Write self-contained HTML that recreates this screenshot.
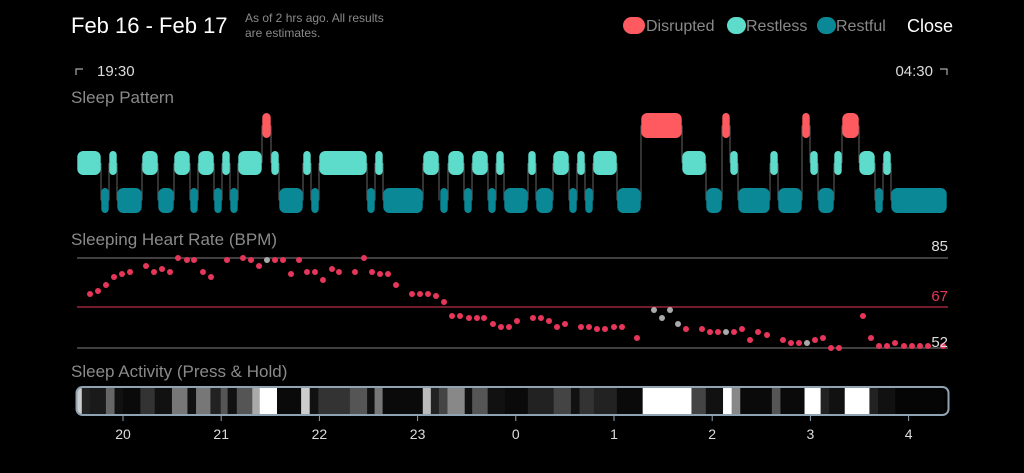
<!DOCTYPE html>
<html><head><meta charset="utf-8"><style>
html,body{margin:0;padding:0;background:#000;width:1024px;height:473px;overflow:hidden;font-family:"Liberation Sans",sans-serif;}
</style></head><body>
<svg id="s" width="1024" height="473" xmlns="http://www.w3.org/2000/svg" style="position:absolute;left:0;top:0">
<rect width="1024" height="473" fill="#000"/>
<text x="71" y="33" fill="#fff" font-size="22">Feb 16 - Feb 17</text>
<text x="245" y="22" fill="#8a8a8a" font-size="12">As of 2 hrs ago. All results</text>
<text x="245" y="37" fill="#8a8a8a" font-size="12">are estimates.</text>
<rect x="623" y="17" width="22" height="17" rx="8.5" fill="#ff5a5f"/>
<text x="646" y="31" fill="#8a8a8a" font-size="16">Disrupted</text>
<rect x="727" y="17" width="19" height="17" rx="8.5" fill="#5ddccb"/>
<text x="746" y="31" fill="#8a8a8a" font-size="16">Restless</text>
<rect x="817" y="17" width="19" height="17" rx="8.5" fill="#0a8896"/>
<text x="836" y="31" fill="#8a8a8a" font-size="16">Restful</text>
<text x="907" y="32" fill="#fff" font-size="18">Close</text>
<path d="M76 75 V69 H83" stroke="#aaa" stroke-width="1.2" fill="none"/>
<text x="97" y="76" fill="#ddd" font-size="15">19:30</text>
<text x="933" y="76" fill="#ddd" font-size="15" text-anchor="end">04:30</text>
<path d="M940 69 H947 V75" stroke="#aaa" stroke-width="1.2" fill="none"/>
<text x="71" y="103" fill="#8a8a8a" font-size="17">Sleep Pattern</text>
<text x="71" y="245" fill="#8a8a8a" font-size="17">Sleeping Heart Rate (BPM)</text>
<text x="71" y="377" fill="#8a8a8a" font-size="17">Sleep Activity (Press &amp; Hold)</text>
<g id="pat"></g>
<line x1="77" y1="258" x2="948" y2="258" stroke="#666" stroke-width="1.2"/>
<line x1="77" y1="307" x2="948" y2="307" stroke="#e8365a" stroke-width="1"/>
<line x1="77" y1="348" x2="948" y2="348" stroke="#666" stroke-width="1.2"/>
<text x="948" y="251" fill="#ddd" font-size="15" text-anchor="end">85</text>
<text x="948" y="301" fill="#e8365a" font-size="15" text-anchor="end">67</text>
<g id="dots"></g>
<text x="948" y="347" fill="#ddd" font-size="15" text-anchor="end">52</text>
<g id="act"></g>
</svg>
<script>
var NS="http://www.w3.org/2000/svg";
function el(p,t,a){var e=document.createElementNS(NS,t);for(var k in a)e.setAttribute(k,a[k]);document.getElementById(p).appendChild(e);return e;}
var rl=[[77,101],[109,117],[142,158],[174,190],[198,214],[222,230],[238,262],[271,279],[303,311],[319,367],[375,383],[423,439],[448,464],[472,488],[496,504],[528,536],[553,569],[577,585],[593,617],[682,706],[730,738],[770,778],[810,818],[834,842],[859,875],[883,891]];
var rf=[[101,109],[117,142],[158,174],[190,198],[214,222],[230,238],[279,303],[311,319],[367,375],[383,423],[440,448],[464,472],[488,496],[504,528],[536,553],[569,577],[585,593],[617,641],[706,722],[738,770],[778,802],[818,834],[875,883],[891,947]];
var ds=[[262,271],[641,682],[722,730],[802,810],[842,859]];
var rows={d:[113,138,"#ff5a5f"],l:[151,175,"#5ddccb"],f:[188,213,"#0a8896"]};
var all=[];rl.forEach(function(s){all.push([s[0],s[1],'l'])});rf.forEach(function(s){all.push([s[0],s[1],'f'])});ds.forEach(function(s){all.push([s[0],s[1],'d'])});
all.sort(function(a,b){return a[0]-b[0]});
for(var i=0;i<all.length-1;i++){var a=all[i],b=all[i+1];var ya=(rows[a[2]][0]+rows[a[2]][1])/2,yb=(rows[b[2]][0]+rows[b[2]][1])/2;el("pat","line",{x1:a[1],x2:a[1],y1:ya,y2:yb,stroke:"#555","stroke-width":1.2});}
all.forEach(function(s){var r=rows[s[2]];var w=s[1]-s[0];el("pat","rect",{x:s[0]+0.3,y:r[0],width:w-0.6,height:r[1]-r[0],rx:Math.min(w/2,6),fill:r[2]});});
var d=[[90,294],[98,291],[106,285],[114,277],[122,274],[130,272],[146,266],[154,272],[162,269],[170,272],[178,258],[187,260],[194,260],[203,272],[211,277],[227,260],[243,258],[251,260],[259,266],[267,260,1],[275,260],[283,260],[291,274],[299,260],[307,272],[315,272],[323,280],[332,269],[339,272],[355,272],[364,258],[372,272],[380,274],[388,274],[396,285],[412,294],[420,294],[428,294],[436,296],[444,302],[452,316],[460,316],[469,318],[477,318],[484,318],[493,324],[501,327],[509,327],[517,321],[533,318],[541,318],[549,321],[557,327],[565,324],[581,327],[589,327],[597,329],[605,329],[614,327],[622,327],[637,338],[654,310,1],[662,318,1],[670,310,1],[678,324,1],[686,329],[702,329],[710,332],[718,332],[726,332,1],[734,332],[742,329],[750,340],[758,332],[767,335],[783,340],[791,343],[799,343],[807,343,1],[815,340],[823,338],[831,348],[839,348],[863,316],[871,338],[879,346],[887,346],[895,343],[904,346],[912,346],[920,346],[928,346],[943,346]];
d.forEach(function(p){el("dots","circle",{cx:p[0],cy:p[1],r:3,fill:p[2]?"#aaa":"#e8365a"});});
var segs=[[30,"#ccc"],[38,"#222"],[52,"#1a1a1a"],[80,"#666"],[95,"#111"],[110,"#0a0a0a"],[140,"#333"],[165,"#111"],[195,"#777"],[222,"#111"],[237,"#777"],[262,"#222"],[280,"#555"],[292,"#111"],[308,"#555"],[335,"#aaa"],[348,"#fff"],[378,"#0a0a0a"],[420,"#ccc"],[435,"#111"],[450,"#333"],[505,"#555"],[535,"#111"],[548,"#777"],[562,"#0a0a0a"],[632,"#bbb"],[646,"#222"],[660,"#444"],[675,"#888"],[705,"#111"],[718,"#555"],[745,"#111"],[775,"#0a0a0a"],[815,"#222"],[860,"#444"],[890,"#111"],[905,"#333"],[930,"#222"],[970,"#0a0a0a"],[1015,"#fff"],[1100,"#444"],[1125,"#111"],[1155,"#fff"],[1170,"#888"],[1185,"#0a0a0a"],[1240,"#555"],[1255,"#0a0a0a"],[1297,"#fff"],[1325,"#222"],[1340,"#111"],[1367,"#fff"],[1410,"#222"],[1425,"#111"],[1455,"#050505"],[1540,null]];
var cp=el("act","clipPath",{id:"cb"});var cr=document.createElementNS(NS,"rect");cr.setAttribute("x",77);cr.setAttribute("y",388);cr.setAttribute("width",871);cr.setAttribute("height",26);cr.setAttribute("rx",5);cp.appendChild(cr);
var g=el("act","g",{"clip-path":"url(#cb)"});
for(var i=0;i<segs.length-1;i++){var x1=segs[i][0]/1.742+60,x2=segs[i+1][0]/1.742+60;var r=document.createElementNS(NS,"rect");r.setAttribute("x",x1);r.setAttribute("y",388);r.setAttribute("width",x2-x1+0.5);r.setAttribute("height",26);r.setAttribute("fill",segs[i][1]);g.appendChild(r);}
el("act","rect",{x:76.5,y:387,width:872,height:28,rx:6,fill:"none",stroke:"#8fa3b3","stroke-width":2});
var labs=["20","21","22","23","0","1","2","3","4"];
labs.forEach(function(t,i){var x=123+i*98.2;el("act","line",{x1:x,x2:x,y1:416,y2:421,stroke:"#8fa3b3","stroke-width":1});var tx=el("act","text",{x:x,y:439,fill:"#ddd","font-size":14,"text-anchor":"middle"});tx.textContent=t;});
</script>
</body></html>
